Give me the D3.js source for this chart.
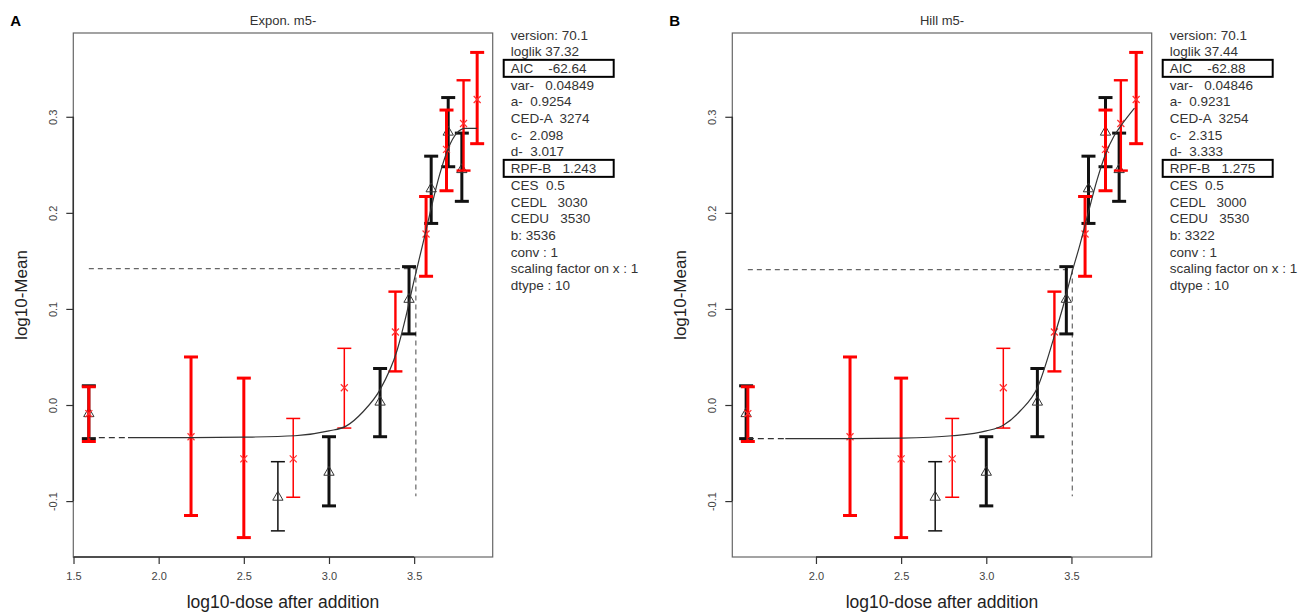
<!DOCTYPE html>
<html>
<head>
<meta charset="utf-8">
<script src="https://cdn.jsdelivr.net/npm/d3@7"></script>
<style>
body { margin: 0; background: #fff; }
svg text { font-family: "Liberation Sans", Arial, sans-serif; }
</style>
</head>
<body>
<svg width="1303" height="613"></svg>
<script>
// substance A (black triangles), same in both panels
var blackDose = [1.59, 2.70, 3.00, 3.30, 3.47, 3.60, 3.70, 3.78];
var blackMean = [-0.009, -0.096, -0.070, 0.003, 0.110, 0.225, 0.284, 0.245];
var blackLow  = [-0.035, -0.131, -0.105, -0.033, 0.074, 0.189, 0.248, 0.212];
var blackHigh = [0.020, -0.059, -0.033, 0.038, 0.144, 0.259, 0.320, 0.283];
var blackN    = [10, 5, 10, 10, 10, 10, 10, 10];

// substance B (red crosses), dose after RPF scaling differs per panel
var redDoseA = [1.59, 2.19, 2.50, 2.79, 3.09, 3.39, 3.57, 3.69, 3.79, 3.87];
var redDoseB = [1.60, 2.20, 2.50, 2.80, 3.10, 3.40, 3.58, 3.70, 3.79, 3.88];
var redMean  = [-0.009, -0.033, -0.056, -0.056, 0.018, 0.076, 0.178, 0.266, 0.293, 0.318];
var redLow   = [-0.038, -0.115, -0.138, -0.096, -0.024, 0.035, 0.134, 0.223, 0.244, 0.272];
var redHigh  = [0.019, 0.050, 0.028, -0.014, 0.059, 0.118, 0.217, 0.307, 0.338, 0.367];
var redN     = [10, 10, 10, 5, 5, 8, 10, 10, 8, 10];

// fitted curves
var curveDose  = [1.82, 2.2, 2.5, 2.8, 3.0, 3.1, 3.2, 3.3, 3.4, 3.45, 3.5, 3.55, 3.6, 3.65, 3.7, 3.75, 3.8, 3.87];
var curveMeanA = [-0.034, -0.034, -0.0335, -0.032, -0.027, -0.022, -0.007, 0.016, 0.057, 0.091, 0.130, 0.167, 0.205, 0.240, 0.267, 0.283, 0.288, 0.288];
var curveMeanB = [-0.035, -0.035, -0.0345, -0.032, -0.027, -0.021, -0.006, 0.018, 0.072, 0.102, 0.136, 0.167, 0.201, 0.234, 0.261, 0.280, 0.293, 0.309];

// CES / CED reference lines
var cedA = 3.51, cesA = 0.142;
var cedB = 3.505, cesB = 0.141;
var cedBottom = -0.095;

var xTicks = [1.5, 2.0, 2.5, 3.0, 3.5];
var yTicks = [-0.1, 0.0, 0.1, 0.2, 0.3];

var legendA = ['version: 70.1', 'loglik 37.32', 'AIC    -62.64', 'var-   0.04849', 'a-  0.9254',
  'CED-A  3274', 'c-  2.098', 'd-  3.017', 'RPF-B   1.243', 'CES  0.5', 'CEDL   3030',
  'CEDU   3530', 'b: 3536', 'conv : 1', 'scaling factor on x : 1', 'dtype : 10'];
var legendB = ['version: 70.1', 'loglik 37.44', 'AIC    -62.88', 'var-   0.04846', 'a-  0.9231',
  'CED-A  3254', 'c-  2.315', 'd-  3.333', 'RPF-B   1.275', 'CES  0.5', 'CEDL   3000',
  'CEDU   3530', 'b: 3322', 'conv : 1', 'scaling factor on x : 1', 'dtype : 10'];
var boxedRows = [2, 8];

var svg = d3.select('svg');

// R style axis range: data range + 4% each side
function pad(e) {
  var w = (e[1] - e[0]) * 0.04;
  return [e[0] - w, e[1] + w];
}

var plotTop = 33, plotBottom = 557, plotW = 419.4;
var y = d3.scaleLinear()
  .domain(pad(d3.extent(blackLow.concat(blackHigh, redLow, redHigh))))
  .range([plotBottom, plotTop]);
var lw = d3.scaleLinear().domain([5, 10]).range([1.5, 3]);

var panels = [
  {letter: 'A', title: 'Expon. m5-', left: 73.3, redDose: redDoseA, curve: curveMeanA, ced: cedA, ces: cesA, legend: legendA},
  {letter: 'B', title: 'Hill m5-', left: 732.3, redDose: redDoseB, curve: curveMeanB, ced: cedB, ces: cesB, legend: legendB}
];

panels.forEach(function(p) {
  var x = d3.scaleLinear()
    .domain(pad(d3.extent(p.redDose)))
    .range([p.left, p.left + plotW]);
  var g = svg.append('g');
  var dom = x.domain();

  // panel letter and title
  g.append('text').attr('x', p.left - 63).attr('y', 26)
    .attr('font-size', 15).attr('font-weight', 'bold').attr('fill', '#000').text(p.letter);
  g.append('text').attr('x', p.left + plotW / 2).attr('y', 25)
    .attr('text-anchor', 'middle').attr('font-size', 13).attr('fill', '#333').text(p.title);

  // box
  g.append('rect').attr('x', p.left).attr('y', plotTop).attr('width', plotW).attr('height', plotBottom - plotTop)
    .attr('fill', 'none').attr('stroke', '#666').attr('stroke-width', 1.2);

  // x axis
  var xt = xTicks.filter(function(t) { return t >= dom[0] && t <= dom[1]; });
  var xAxis = g.append('g').attr('transform', 'translate(0,' + plotBottom + ')')
    .call(d3.axisBottom(x).tickValues(xt).tickSize(7).tickPadding(8).tickSizeOuter(0)
      .tickFormat(function(d) { return d.toFixed(1); }));
  xAxis.select('.domain').remove();
  xAxis.append('line').attr('x1', x(xt[0])).attr('x2', x(xt[xt.length - 1]))
    .attr('stroke', '#333').attr('stroke-width', 1.5);
  xAxis.selectAll('.tick line').attr('stroke', '#333').attr('stroke-width', 1.2);
  xAxis.selectAll('.tick text').attr('font-size', 11).attr('fill', '#444')
    .attr('font-family', '"Liberation Sans", Arial, sans-serif');

  // y axis
  var yAxis = g.append('g').attr('transform', 'translate(' + p.left + ',0)')
    .call(d3.axisLeft(y).tickValues(yTicks).tickSize(7).tickSizeOuter(0)
      .tickFormat(function(d) { return d.toFixed(1); }));
  yAxis.select('.domain').remove();
  yAxis.append('line').attr('y1', y(yTicks[0])).attr('y2', y(yTicks[yTicks.length - 1]))
    .attr('stroke', '#333').attr('stroke-width', 1.5);
  yAxis.selectAll('.tick line').attr('stroke', '#333').attr('stroke-width', 1.2);
  yAxis.selectAll('.tick text').attr('font-size', 11).attr('fill', '#444')
    .attr('font-family', '"Liberation Sans", Arial, sans-serif')
    .attr('transform', 'rotate(-90)').attr('x', 0).attr('y', -16).attr('dy', 0)
    .attr('text-anchor', 'middle');

  // axis titles
  g.append('text').attr('x', p.left + plotW / 2).attr('y', 608)
    .attr('text-anchor', 'middle').attr('font-size', 17.5).attr('fill', '#222')
    .text('log10-dose after addition');
  g.append('text').attr('transform', 'translate(' + (p.left - 46) + ',' + ((plotTop + plotBottom) / 2) + ') rotate(-90)')
    .attr('text-anchor', 'middle').attr('font-size', 17).attr('fill', '#222')
    .text('log10-Mean');

  // CES / CED dashed lines
  g.append('line').attr('x1', x(p.redDose[0])).attr('x2', x(p.ced))
    .attr('y1', y(p.ces)).attr('y2', y(p.ces))
    .attr('stroke', '#666').attr('stroke-width', 1.2).attr('stroke-dasharray', '5,4');
  g.append('line').attr('x1', x(p.ced)).attr('x2', x(p.ced))
    .attr('y1', y(p.ces)).attr('y2', y(cedBottom))
    .attr('stroke', '#666').attr('stroke-width', 1.2).attr('stroke-dasharray', '5,4');

  var bl = blackDose.map(function(d, i) {
    return {x: d, m: blackMean[i], lo: blackLow[i], hi: blackHigh[i], n: blackN[i]};
  });
  var rd = p.redDose.map(function(d, i) {
    return {x: d, m: redMean[i], lo: redLow[i], hi: redHigh[i], n: redN[i]};
  });

  function bars(data, color) {
    var b = g.append('g').selectAll('g').data(data).enter().append('g')
      .attr('stroke', color).attr('stroke-width', function(d) { return lw(d.n); });
    b.append('line').attr('x1', function(d) { return x(d.x); }).attr('x2', function(d) { return x(d.x); })
      .attr('y1', function(d) { return y(d.lo); }).attr('y2', function(d) { return y(d.hi); });
    b.append('line').attr('x1', function(d) { return x(d.x) - 7; }).attr('x2', function(d) { return x(d.x) + 7; })
      .attr('y1', function(d) { return y(d.hi); }).attr('y2', function(d) { return y(d.hi); });
    b.append('line').attr('x1', function(d) { return x(d.x) - 7; }).attr('x2', function(d) { return x(d.x) + 7; })
      .attr('y1', function(d) { return y(d.lo); }).attr('y2', function(d) { return y(d.lo); });
  }

  // black error bars + triangles
  bars(bl, '#111');
  g.append('g').selectAll('path').data(bl).enter().append('path')
    .attr('d', d3.symbol().type(d3.symbolTriangle).size(46))
    .attr('transform', function(d) { return 'translate(' + x(d.x) + ',' + y(d.m) + ')'; })
    .attr('fill', 'none').attr('stroke', '#333').attr('stroke-width', 1);

  // red error bars + crosses
  bars(rd, '#f00');
  g.append('g').selectAll('path').data(rd).enter().append('path')
    .attr('d', 'M-3.5,-3.5L3.5,3.5M-3.5,3.5L3.5,-3.5')
    .attr('transform', function(d) { return 'translate(' + x(d.x) + ',' + y(d.m) + ')'; })
    .attr('fill', 'none').attr('stroke', '#ff3030').attr('stroke-width', 1.2);

  // fitted curve: dashed below lowest fitted dose, solid after
  g.append('line').attr('x1', x(p.redDose[0])).attr('x2', x(curveDose[0]))
    .attr('y1', y(p.curve[0])).attr('y2', y(p.curve[0]))
    .attr('stroke', '#333').attr('stroke-width', 1.2).attr('stroke-dasharray', '6,4');
  var line = d3.line().curve(d3.curveMonotoneX)
    .x(function(d, i) { return x(curveDose[i]); })
    .y(function(d) { return y(d); });
  g.append('path').datum(p.curve).attr('d', line)
    .attr('fill', 'none').attr('stroke', '#333').attr('stroke-width', 1.2);

  // parameter legend
  var lx = p.left + plotW + 18;
  var leg = g.append('g');
  leg.selectAll('text').data(p.legend).enter().append('text')
    .attr('x', lx).attr('y', function(d, i) { return 35 + i * 16.67 + 4.8; })
    .attr('xml:space', 'preserve').style('white-space', 'pre')
    .attr('font-size', 13.5).attr('fill', '#333')
    .text(function(d) { return d; });
  leg.selectAll('rect').data(boxedRows).enter().append('rect')
    .attr('x', lx - 7).attr('y', function(i) { return 35 + i * 16.67 - 8.5; })
    .attr('width', 110).attr('height', 17)
    .attr('fill', 'none').attr('stroke', '#000').attr('stroke-width', 2);
});
</script>
</body>
</html>
